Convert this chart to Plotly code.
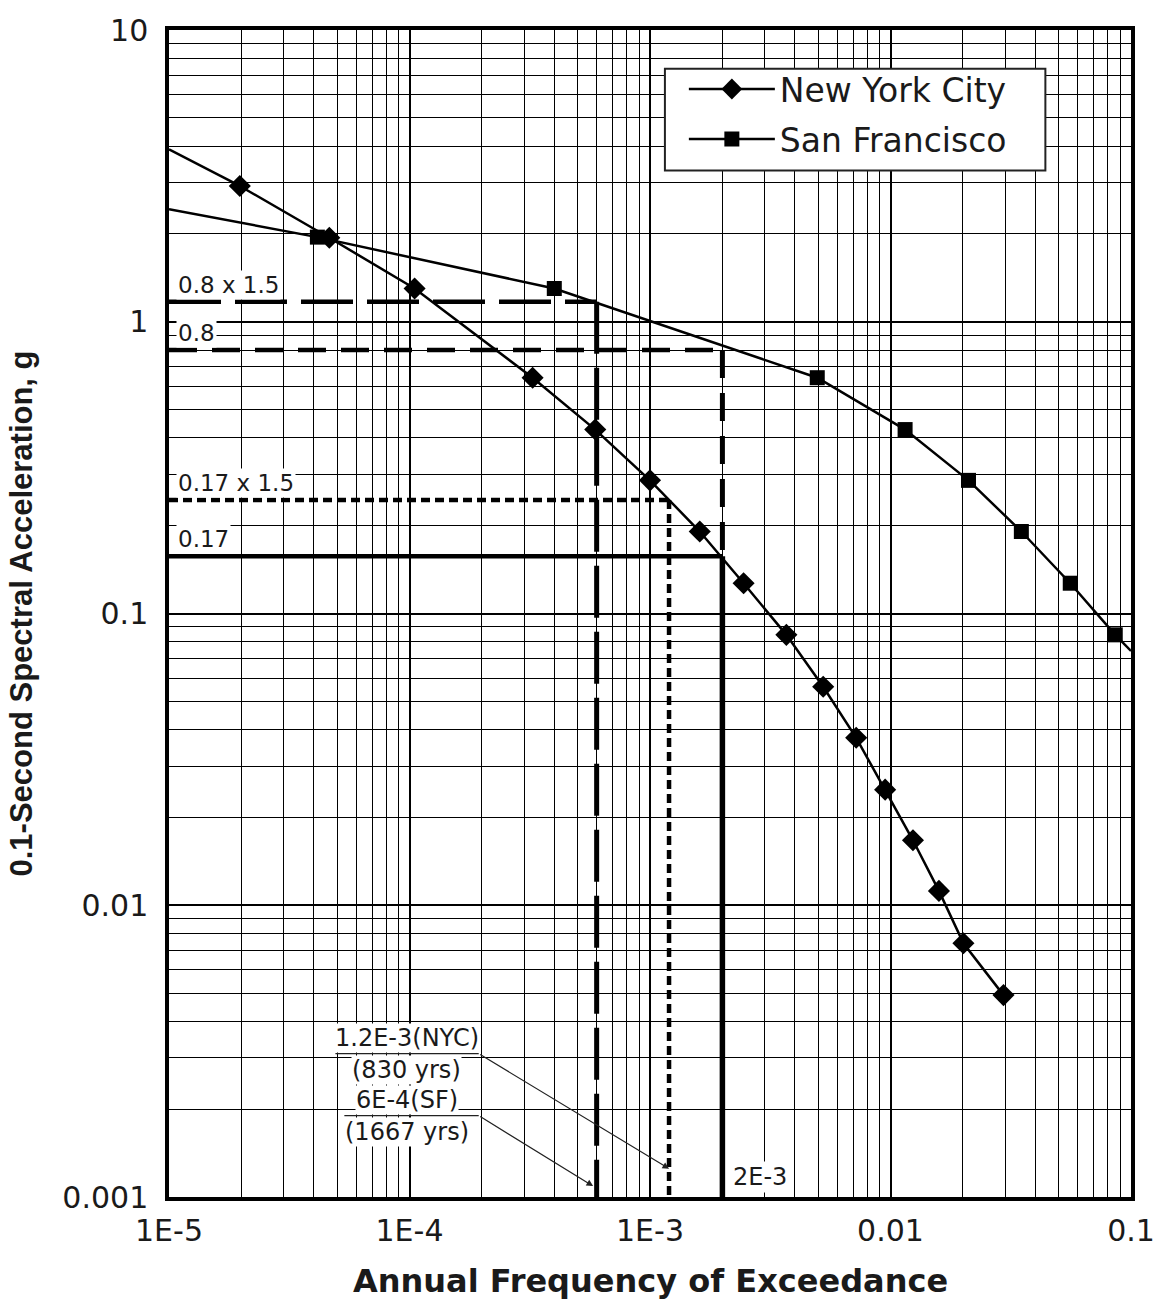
import numpy as np
import plotly.graph_objects as go

# ---------------- data ----------------
nyc_freq = [1.97e-5, 4.64e-5, 1.05e-4, 3.25e-4, 5.92e-4, 1.0e-3, 1.61e-3, 2.45e-3,
            3.69e-3, 5.25e-3, 7.2e-3, 9.5e-3, 1.24e-2, 1.59e-2, 2.01e-2, 2.95e-2]
nyc_sa = [2.92, 1.94, 1.30, 0.643, 0.427, 0.286, 0.191, 0.127,
          0.0845, 0.0561, 0.0375, 0.0249, 0.0167, 0.0112, 0.00741, 0.00492]
nyc_ext_freq = [1e-5]      # curve drawn on to the left axis
nyc_ext_sa = [3.9]

sf_freq = [4.14e-5, 4.0e-4, 4.96e-3, 1.15e-2, 2.11e-2, 3.5e-2, 5.59e-2, 8.6e-2]
sf_sa = [1.95, 1.30, 0.643, 0.427, 0.286, 0.191, 0.127, 0.0845]
sf_ext_freq = [1e-5, 0.1]  # curve drawn on to both axes
sf_ext_sa = [2.43, 0.0744]

ref_labels = ["0.8 x 1.5", "0.8", "0.17 x 1.5", "0.17"]
ref_levels = [1.17, 0.8, 0.245, 0.157]
ref_freq = [6e-4, 2e-3, 1.2e-3, 2e-3]
ref_dash = ["52px,14px", "28px,15px", "9px,5px", "solid"]

x_tickvals = [1e-5, 1e-4, 1e-3, 1e-2, 1e-1]
x_ticktext = ["1E-5", "1E-4", "1E-3", "0.01", "0.1"]
y_tickvals = [1e-3, 1e-2, 1e-1, 1, 10]
y_ticktext = ["0.001", "0.01", "0.1", "1", "10"]

X_MIN, X_MAX = 1e-5, 0.1
Y_MIN, Y_MAX = 1e-3, 10

TXT = "#1a1a1a"
WIDE = "DejaVu Sans"
ARIAL = "Liberation Sans"

fig = go.Figure()

# ---------------- reference lines ----------------
for lvl, fq, dsh in zip(ref_levels, ref_freq, ref_dash):
    fig.add_trace(go.Scatter(x=[X_MIN, fq], y=[lvl, lvl], mode="lines",
                             line=dict(color="black", width=4.5, dash=dsh),
                             showlegend=False, hoverinfo="skip"))
v_bottom = [Y_MIN, ref_levels[3], Y_MIN, Y_MIN]
v_width = [5, 5, 4.5, 5.5]
for lvl, fq, dsh, bot, w in zip(ref_levels, ref_freq, ref_dash, v_bottom, v_width):
    fig.add_trace(go.Scatter(x=[fq, fq], y=[lvl, bot], mode="lines",
                             line=dict(color="black", width=w, dash=dsh),
                             showlegend=False, hoverinfo="skip"))

# ---------------- hazard curves ----------------
fig.add_trace(go.Scatter(x=nyc_ext_freq + nyc_freq[:1], y=nyc_ext_sa + nyc_sa[:1],
                         mode="lines", line=dict(color="black", width=2.5),
                         showlegend=False, hoverinfo="skip"))
fig.add_trace(go.Scatter(x=[sf_ext_freq[0], sf_freq[0]], y=[sf_ext_sa[0], sf_sa[0]],
                         mode="lines", line=dict(color="black", width=2.5),
                         showlegend=False, hoverinfo="skip"))
fig.add_trace(go.Scatter(x=[sf_freq[-1], sf_ext_freq[1]], y=[sf_sa[-1], sf_ext_sa[1]],
                         mode="lines", line=dict(color="black", width=2.5),
                         showlegend=False, hoverinfo="skip"))
fig.add_trace(go.Scatter(x=nyc_freq, y=nyc_sa, mode="lines+markers", name="New York City",
                         legendgroup="nyc",
                         line=dict(color="black", width=2.5),
                         marker=dict(symbol="diamond", size=17, color="black")))
fig.add_trace(go.Scatter(x=sf_freq, y=sf_sa, mode="lines+markers", name="San Francisco",
                         legendgroup="sf",
                         line=dict(color="black", width=2.5),
                         marker=dict(symbol="square", size=15, color="black")))

# ---------------- annotations ----------------
ann = []
for lab, lvl in zip(ref_labels, ref_levels):
    ann.append(dict(x=np.log10(X_MIN), y=np.log10(lvl), xref="x", yref="y",
                    text=lab, showarrow=False, xanchor="left", yanchor="bottom",
                    xshift=7, yshift=2, bgcolor="white", borderpad=1,
                    font=dict(family=WIDE, size=23, color=TXT)))
ann.append(dict(x=np.log10(ref_freq[1]), y=np.log10(Y_MIN), xref="x", yref="y",
                text="2E-3", showarrow=False, xanchor="left", yanchor="bottom",
                xshift=9, yshift=4, bgcolor="white", borderpad=1,
                font=dict(family=WIDE, size=24, color=TXT)))

bar_left = [4.92e-5, 5.36e-5]
bar_right = 1.94e-4
bar_y = [3.1e-3, 1.9e-3]
txt_center = 9.76e-5
top_txt = ["1.2E-3(NYC)", "6E-4(SF)"]
bot_txt = ["(830 yrs)", "(1667 yrs)"]
heads = [(ref_freq[2], 1.25e-3), (5.8e-4, 1.09e-3)]
shapes = []
for bl, by, tt, bt, (hx, hy) in zip(bar_left, bar_y, top_txt, bot_txt, heads):
    shapes.append(dict(type="line", xref="x", yref="y", x0=bl, x1=bar_right, y0=by, y1=by,
                       line=dict(color="#222", width=1.3), layer="above"))
    ann.append(dict(x=np.log10(txt_center), y=np.log10(by), xref="x", yref="y",
                    text=tt, showarrow=False, xanchor="center", yanchor="bottom",
                    yshift=1, bgcolor="white", borderpad=0,
                    font=dict(family=WIDE, size=24, color=TXT)))
    ann.append(dict(x=np.log10(txt_center), y=np.log10(by), xref="x", yref="y",
                    text=bt, showarrow=False, xanchor="center", yanchor="top",
                    yshift=-1, bgcolor="white", borderpad=0,
                    font=dict(family=WIDE, size=24, color=TXT)))
    ann.append(dict(x=np.log10(hx), y=np.log10(hy), xref="x", yref="y",
                    ax=np.log10(bar_right), ay=np.log10(by), axref="x", ayref="y",
                    text="", showarrow=True, arrowhead=2, arrowsize=1.1,
                    arrowwidth=1.2, arrowcolor="#222", standoff=0))

# axis titles
ann.append(dict(x=0.5, y=0, xref="paper", yref="paper", text="<b>Annual Frequency of Exceedance</b>",
                showarrow=False, xanchor="center", yanchor="middle", yshift=-84,
                font=dict(family=WIDE, size=32, color=TXT)))
ann.append(dict(x=0, y=0.5, xref="paper", yref="paper",
                text="<b>0.1-Second Spectral Acceleration, g</b>", textangle=-90,
                showarrow=False, xanchor="center", yanchor="middle", xshift=-148,
                font=dict(family=ARIAL, size=31, color=TXT)))

# legend frame (white box with black border) drawn behind the legend entries
shapes.append(dict(type="rect", xref="paper", yref="paper",
                   x0=0.5155, x1=0.911, y0=0.8797, y1=0.9667,
                   fillcolor="white", line=dict(color="#222", width=2), layer="above"))

axis_common = dict(
    type="log", showline=True, linecolor="black", linewidth=3.5, mirror=True,
    showgrid=True, gridcolor="black", gridwidth=1.8, ticks="", zeroline=False,
    tickfont=dict(family=WIDE, size=30, color=TXT),
    minor=dict(dtick="D1", showgrid=True, gridcolor="black", gridwidth=1.2, ticks=""),
)

fig.update_layout(
    width=1167, height=1301,
    margin=dict(l=169, r=32, t=25, b=104),
    paper_bgcolor="white", plot_bgcolor="white",
    xaxis=dict(range=[np.log10(X_MIN), np.log10(X_MAX)], tickmode="array",
               tickvals=x_tickvals, ticktext=x_ticktext, ticklabelstandoff=4, **axis_common),
    yaxis=dict(range=[np.log10(Y_MIN), np.log10(Y_MAX)], tickmode="array",
               tickvals=y_tickvals, ticktext=y_ticktext, ticklabelstandoff=11, **axis_common),
    legend=dict(x=0.5352, y=0.9734, xanchor="left", yanchor="top",
                bgcolor="rgba(0,0,0,0)", borderwidth=0,
                font=dict(family=WIDE, size=33, color=TXT),
                itemwidth=86, traceorder="grouped", tracegroupgap=4),
    annotations=ann, shapes=shapes,
    showlegend=True,
)

fig.write_html("out.html")
